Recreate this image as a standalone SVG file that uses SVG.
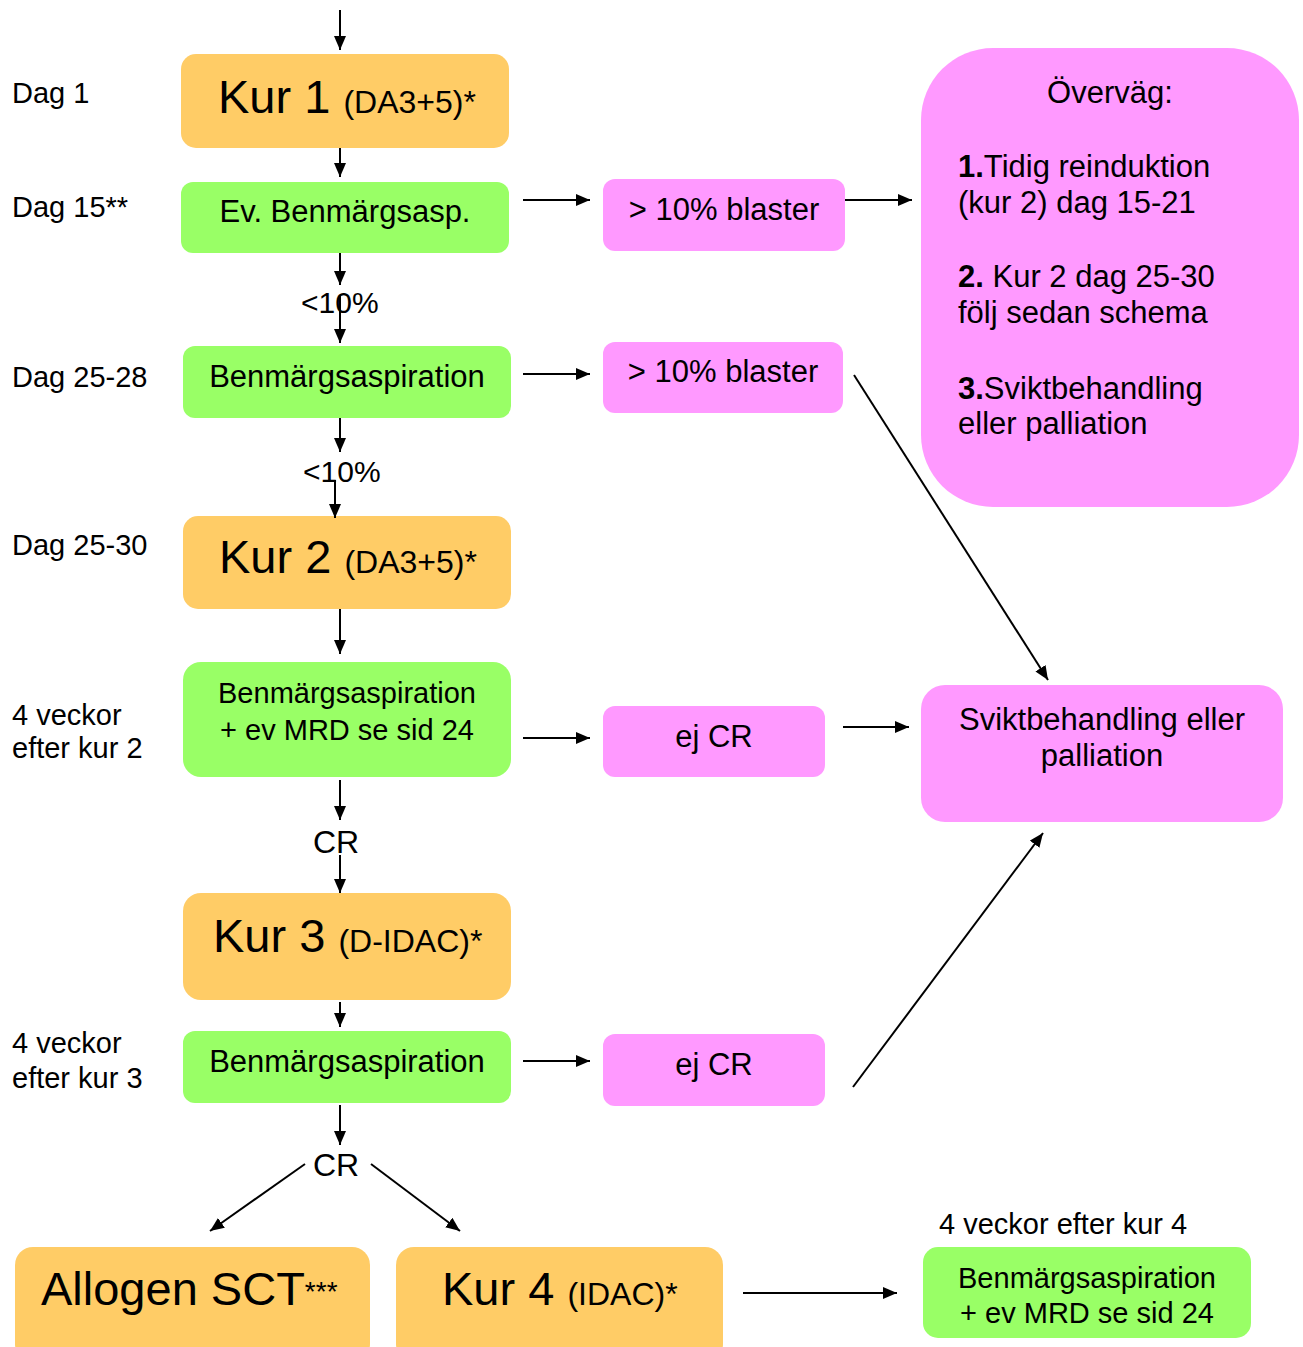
<svg xmlns="http://www.w3.org/2000/svg" width="1303" height="1347" viewBox="0 0 1303 1347">
<style>
text{font-family:"Liberation Sans",Arial,sans-serif;fill:#000}
.o{fill:#FFCC66}
.g{fill:#99FF66}
.p{fill:#FF99FF}
.lbl{font-size:29px}
.el{font-size:30px}
.cr{font-size:32px;text-anchor:middle}
.t{font-size:31px}
.big{font-size:47px}
.sm{font-size:32px}
.c{text-anchor:middle}
.ln{stroke:#000;stroke-width:2;fill:none}
</style>
<defs>
<marker id="ah" viewBox="0 0 14 12" refX="14" refY="6" markerWidth="14" markerHeight="12" markerUnits="userSpaceOnUse" orient="auto">
<path d="M0,0 L14,6 L0,12 z" fill="#000"/>
</marker>
</defs>

<g id="labels">
<text class="lbl" x="12" y="103">Dag 1</text>
<text class="lbl" x="12" y="217">Dag 15**</text>
<text class="lbl" x="12" y="387">Dag 25-28</text>
<text class="lbl" x="12" y="555">Dag 25-30</text>
<text class="lbl" x="12" y="725">4 veckor</text>
<text class="lbl" x="12" y="758">efter kur 2</text>
<text class="lbl" x="12" y="1053">4 veckor</text>
<text class="lbl" x="12" y="1088">efter kur 3</text>
<text class="lbl" x="939" y="1234">4 veckor efter kur 4</text>
</g>

<g id="kur1">
<rect class="o" x="181" y="54" width="328" height="94" rx="15"/>
<text x="218" y="113"><tspan class="big">Kur 1 </tspan><tspan class="sm">(DA3+5)*</tspan></text>
</g>
<g id="evbenm">
<rect class="g" x="181" y="182" width="328" height="71" rx="12"/>
<text class="t c" x="345" y="222">Ev. Benmärgsasp.</text>
</g>
<g id="blaster1">
<rect class="p" x="603" y="179" width="242" height="72" rx="12"/>
<text class="t c" x="724" y="220">&gt; 10% blaster</text>
</g>
<g id="overvag">
<rect class="p" x="921" y="48" width="378" height="459" rx="72"/>
<text class="t c" x="1110" y="103">Överväg:</text>
<text class="t" x="958" y="177"><tspan font-weight="bold">1.</tspan>Tidig reinduktion</text>
<text class="t" x="958" y="213">(kur 2) dag 15-21</text>
<text class="t" x="958" y="287"><tspan font-weight="bold">2.</tspan> Kur 2 dag 25-30</text>
<text class="t" x="958" y="323">följ sedan schema</text>
<text class="t" x="958" y="399"><tspan font-weight="bold">3.</tspan>Sviktbehandling</text>
<text class="t" x="958" y="434">eller palliation</text>
</g>
<g id="benm1">
<rect class="g" x="183" y="346" width="328" height="72" rx="12"/>
<text class="t c" x="347" y="387">Benmärgsaspiration</text>
</g>
<g id="blaster2">
<rect class="p" x="603" y="342" width="240" height="71" rx="12"/>
<text class="t c" x="723" y="382">&gt; 10% blaster</text>
</g>
<g id="kur2">
<rect class="o" x="183" y="516" width="328" height="93" rx="15"/>
<text x="219" y="573"><tspan class="big">Kur 2 </tspan><tspan class="sm">(DA3+5)*</tspan></text>
</g>
<g id="benm2">
<rect class="g" x="183" y="662" width="328" height="115" rx="18"/>
<text class="c" font-size="29" x="347" y="703">Benmärgsaspiration</text>
<text class="c" font-size="29" x="347" y="740">+ ev MRD se sid 24</text>
</g>
<g id="ejcr1">
<rect class="p" x="603" y="706" width="222" height="71" rx="12"/>
<text class="t c" x="714" y="747">ej CR</text>
</g>
<g id="svikt">
<rect class="p" x="921" y="685" width="362" height="137" rx="24"/>
<text class="t c" x="1102" y="730">Sviktbehandling eller</text>
<text class="t c" x="1102" y="766">palliation</text>
</g>
<g id="kur3">
<rect class="o" x="183" y="893" width="328" height="107" rx="18"/>
<text x="213" y="952"><tspan class="big">Kur 3 </tspan><tspan class="sm">(D-IDAC)*</tspan></text>
</g>
<g id="benm3">
<rect class="g" x="183" y="1031" width="328" height="72" rx="12"/>
<text class="t c" x="347" y="1072">Benmärgsaspiration</text>
</g>
<g id="ejcr2">
<rect class="p" x="603" y="1034" width="222" height="72" rx="12"/>
<text class="t c" x="714" y="1075">ej CR</text>
</g>
<g id="allogen">
<rect class="o" x="15" y="1247" width="355" height="115" rx="18"/>
<text x="41" y="1305"><tspan class="big">Allogen SCT</tspan><tspan font-size="28" dy="-4">***</tspan></text>
</g>
<g id="kur4">
<rect class="o" x="396" y="1247" width="327" height="115" rx="18"/>
<text x="442" y="1305"><tspan class="big">Kur 4 </tspan><tspan class="sm">(IDAC)*</tspan></text>
</g>
<g id="benm4">
<rect class="g" x="923" y="1247" width="328" height="91" rx="15"/>
<text class="c" font-size="29" x="1087" y="1288">Benmärgsaspiration</text>
<text class="c" font-size="29" x="1087" y="1323">+ ev MRD se sid 24</text>
</g>

<g id="edge-labels">
<text class="el" x="301" y="313">&lt;10%</text>
<text class="el" x="303" y="482">&lt;10%</text>
<text class="cr" x="336" y="853">CR</text>
<text class="cr" x="336" y="1176">CR</text>
</g>

<g id="connectors">
<line class="ln" x1="340" y1="10" x2="340" y2="50" marker-end="url(#ah)"/>
<line class="ln" x1="340" y1="148" x2="340" y2="177" marker-end="url(#ah)"/>
<line class="ln" x1="340" y1="253" x2="340" y2="285" marker-end="url(#ah)"/>
<line class="ln" x1="340" y1="296" x2="340" y2="343" marker-end="url(#ah)"/>
<line class="ln" x1="340" y1="418" x2="340" y2="452" marker-end="url(#ah)"/>
<line class="ln" x1="335" y1="480" x2="335" y2="518" marker-end="url(#ah)"/>
<line class="ln" x1="340" y1="609" x2="340" y2="654" marker-end="url(#ah)"/>
<line class="ln" x1="340" y1="780" x2="340" y2="820" marker-end="url(#ah)"/>
<line class="ln" x1="340" y1="855" x2="340" y2="893" marker-end="url(#ah)"/>
<line class="ln" x1="340" y1="1002" x2="340" y2="1027" marker-end="url(#ah)"/>
<line class="ln" x1="340" y1="1105" x2="340" y2="1145" marker-end="url(#ah)"/>
<line class="ln" x1="305" y1="1164" x2="210" y2="1231" marker-end="url(#ah)"/>
<line class="ln" x1="371" y1="1164" x2="460" y2="1231" marker-end="url(#ah)"/>
<line class="ln" x1="523" y1="200" x2="590" y2="200" marker-end="url(#ah)"/>
<line class="ln" x1="845" y1="200" x2="912" y2="200" marker-end="url(#ah)"/>
<line class="ln" x1="523" y1="374" x2="590" y2="374" marker-end="url(#ah)"/>
<line class="ln" x1="523" y1="738" x2="590" y2="738" marker-end="url(#ah)"/>
<line class="ln" x1="843" y1="727" x2="909" y2="727" marker-end="url(#ah)"/>
<line class="ln" x1="523" y1="1061" x2="590" y2="1061" marker-end="url(#ah)"/>
<line class="ln" x1="743" y1="1293" x2="897" y2="1293" marker-end="url(#ah)"/>
<line class="ln" x1="854" y1="375" x2="1048" y2="680" marker-end="url(#ah)"/>
<line class="ln" x1="853" y1="1087" x2="1043" y2="833" marker-end="url(#ah)"/>
</g>
</svg>
